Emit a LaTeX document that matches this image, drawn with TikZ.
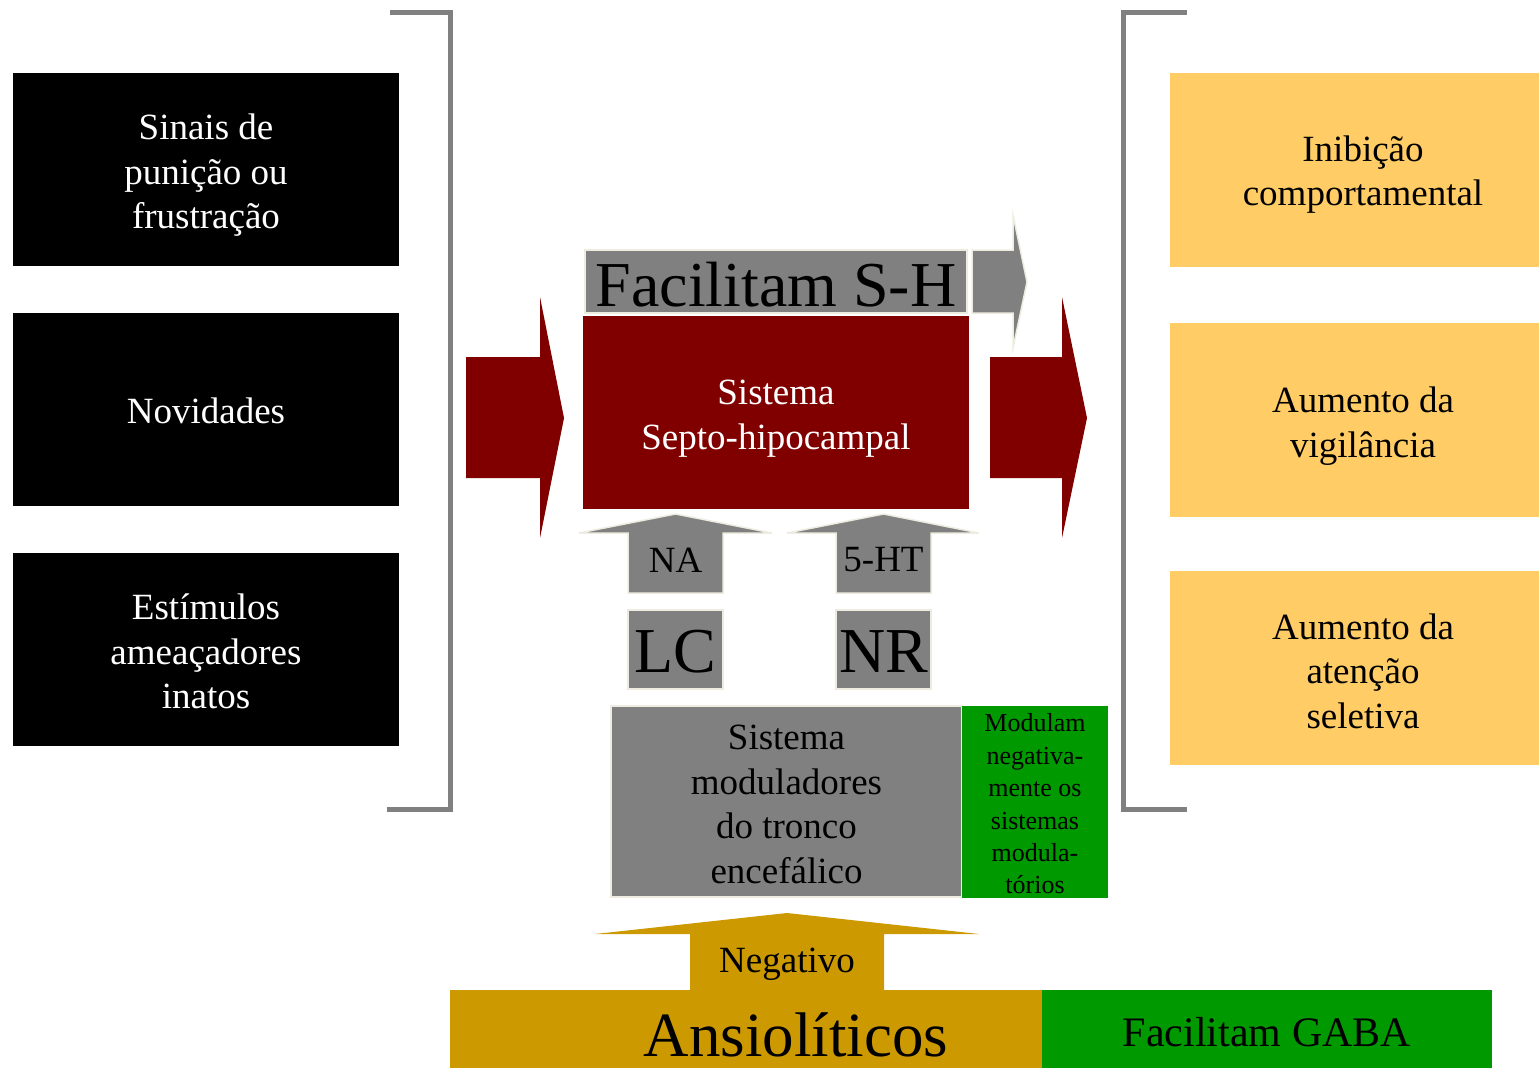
\documentclass[tikz,border=0pt]{standalone}
\usepackage{fontspec}
\setmainfont{Liberation Serif}
\definecolor{grayfill}{HTML}{808080}
\definecolor{edgebeige}{HTML}{EEECE1}
\definecolor{maroon}{HTML}{800000}
\definecolor{peach}{HTML}{FFCC66}
\definecolor{leaf}{HTML}{009900}
\definecolor{gold}{HTML}{CC9900}
\begin{document}
\begin{tikzpicture}[x=1pt,y=-1pt,
  base/.style={inner sep=0pt, outer sep=0pt, align=center,
    font=\fontsize{37}{44.5}\selectfont},
  big/.style={font=\fontsize{64}{70}\selectfont},
  blackbox/.style={base, fill=black, minimum width=386pt, minimum height=193pt},
  peachbox/.style={base, fill=peach, minimum width=386pt, minimum height=194pt},
  graybox/.style={base, fill=grayfill, draw=edgebeige, line width=1.5pt},
  grayarrow/.style={fill=grayfill, draw=edgebeige, line width=1.5pt, line join=miter},
  bracket/.style={draw=grayfill, line width=5pt},
  light/.style={base, text=white},
]
\useasboundingbox (0,0) rectangle (1539,1068);
\clip (0,0) rectangle (1539,1068);

% input stimuli
\node[blackbox] (sinais) at (206,169.5) {};
\node[blackbox] (novid) at (206,409.5) {};
\node[blackbox] (estim) at (206,649.5) {};
\node[light] (sinais-t) at ([yshift=-6pt]sinais.center) {Sinais de\\puni\c{c}\~ao ou\\frustra\c{c}\~ao};
\node[light] (novid-t) at ([yshift=-1pt]novid.center) {Novidades};
\node[light] (estim-t) at ([yshift=-2pt]estim.center) {Est\'imulos\\amea\c{c}adores\\inatos};

% behavioural outputs
\node[peachbox] (inib) at (1363,169.5) {};
\node[peachbox] (vigil) at (1363,420) {};
\node[peachbox] (atenc) at (1363,668) {};
\node[base] (inib-t) at ([yshift=-5pt]inib.center) {Inibi\c{c}\~ao\\comportamental};
\node[base] (vigil-t) at ([yshift=-6pt]vigil.center) {Aumento da\\vigil\^ancia};
\node[base] (atenc-t) at ([yshift=-3pt]atenc.center) {Aumento da\\aten\c{c}\~ao\\seletiva};

% brackets grouping inputs and outputs
\draw[bracket] (390,12) -- (450.5,12) -- (450.5,809) -- (387,809);
\draw[bracket] (1187,12) -- (1123.5,12) -- (1123.5,809) -- (1187,809);

% block arrows into and out of the septo-hippocampal system
\fill[maroon] (466,357) -- (540,357) -- (540,297) -- (564,418) -- (540,538)
  -- (540,478) -- (466,478) -- cycle;
\fill[maroon] (990,357) -- (1062,357) -- (1062,297) -- (1087,418) -- (1062,538)
  -- (1062,478) -- (990,478) -- cycle;

% septo-hippocampal system
\node[base, fill=maroon, minimum width=386pt, minimum height=193pt] (sh) at (776,412.5) {};
\node[light] (sh-t) at ([yshift=-6pt]sh.center) {Sistema\\Septo-hipocampal};
\node[graybox, minimum width=382pt, minimum height=63pt] (facsh) at (776,281.5) {};
\node[base, big] (facsh-t) at ([yshift=-3pt]facsh.center) {Facilitam S-H};
\path[grayarrow] (972,250) -- (1013,250) -- (1013,215) -- (1027,282) -- (1013,348)
  -- (1013,313) -- (972,313) -- cycle;

% monoaminergic projections
\path[grayarrow] (628,593) -- (628,533) -- (579,533) -- (675.5,514) -- (772,533)
  -- (723,533) -- (723,593) -- cycle;
\path[grayarrow] (836,593) -- (836,533) -- (787,533) -- (883.5,514) -- (979,533)
  -- (931,533) -- (931,593) -- cycle;
\node[base] (na) at (675.5,560) {NA};
\node[base] (ht) at (883.5,560) {5-HT};

\node[graybox, minimum width=95pt, minimum height=79pt] (lc) at (675.5,649.5) {};
\node[graybox, minimum width=95pt, minimum height=79pt] (nr) at (883.5,649.5) {};
\node[base, big] (lc-t) at ([yshift=-2pt]lc.center) {LC};
\node[base, big] (nr-t) at ([yshift=-2pt]nr.center) {NR};

% brainstem modulatory systems
\node[graybox, minimum width=351pt, minimum height=191pt] (tronco) at (786.5,801.5) {};
\node[base] (tronco-t) at ([yshift=-3pt]tronco.center)
  {Sistema\\moduladores\\do tronco\\encef\'alico};
\node[base, fill=leaf, minimum width=146pt, minimum height=192pt] (modul) at (1035,802) {};
\node[base, font=\fontsize{26}{32.4}\selectfont] (modul-t) at ([yshift=-2pt]modul.center)
  {Modulam\\negativa-\\mente os\\sistemas\\modula-\\t\'orios};

% anxiolytics
\fill[gold] (690,992) -- (690,934) -- (595,934) -- (787,913) -- (979,934)
  -- (884,934) -- (884,992) -- cycle;
\node[base, fill=gold, minimum width=592pt, minimum height=78pt] (ansiobar) at (746,1029) {};
\node[base, font=\fontsize{63}{70}\selectfont] (ansio) at (796,1035) {Ansiol\'iticos};
\node[base] (neg) at (787,964) {Negativo};
\node[base, fill=leaf, minimum width=450pt, minimum height=78pt] (gababar) at (1267,1029) {};
\node[base, font=\fontsize{42}{48}\selectfont] (gaba) at (1267,1032.5) {Facilitam GABA};
\end{tikzpicture}
\end{document}
